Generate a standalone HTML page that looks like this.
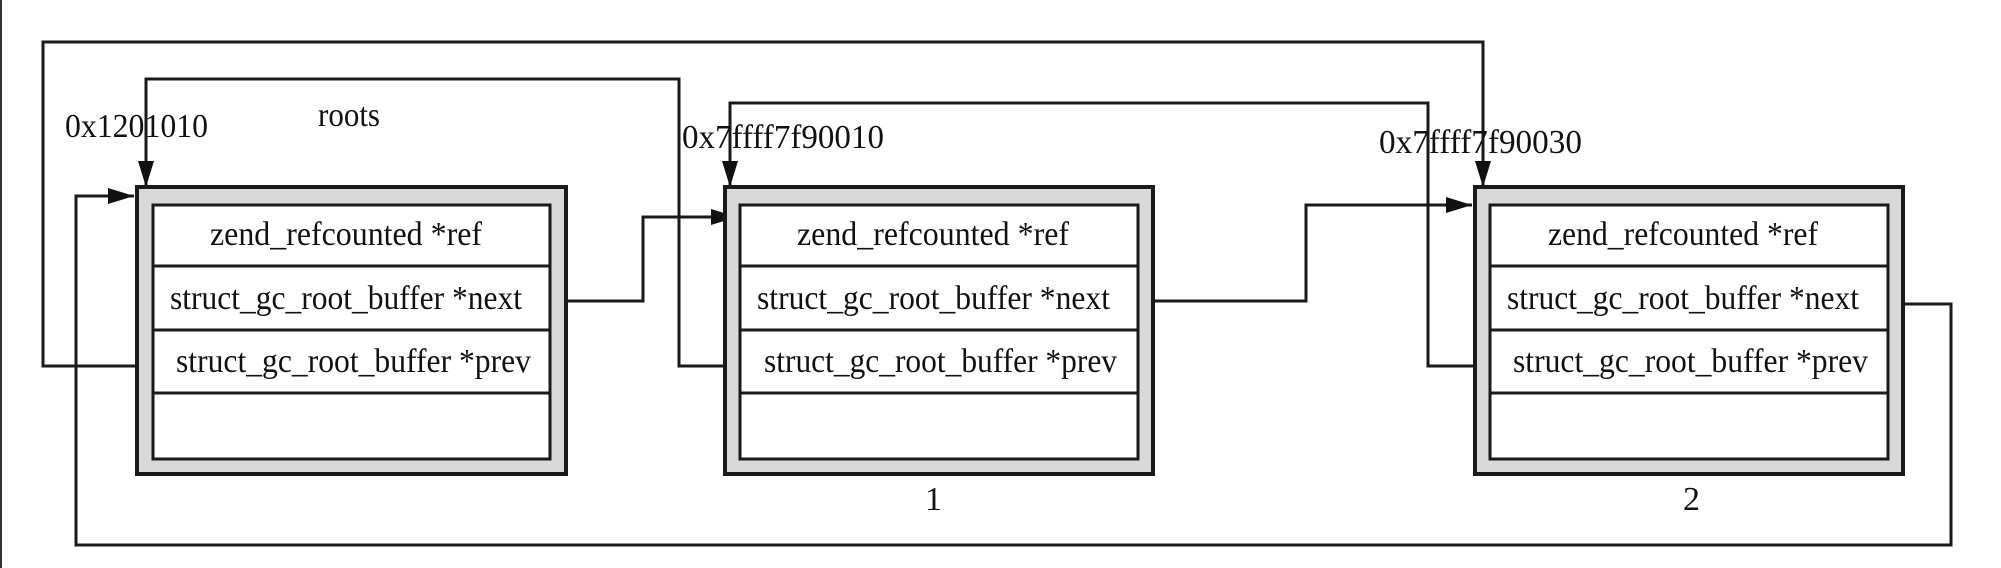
<!DOCTYPE html>
<html><head><meta charset="utf-8"><style>html,body{margin:0;padding:0;background:#fff}svg{display:block}</style></head>
<body>
<svg width="2001" height="568" viewBox="0 0 2001 568" xmlns="http://www.w3.org/2000/svg" font-family="Liberation Serif, serif" font-size="34" fill="#111">
<rect x="0" y="0" width="2" height="568" fill="#333"/>
<defs>
<marker id="b" viewBox="0 0 26 26" markerWidth="26" markerHeight="26" refX="26" refY="13" orient="auto" markerUnits="userSpaceOnUse"><path d="M0,5 L26,13 L0,21z" fill="#111"/></marker></defs>
<g fill="none" stroke="#1a1a1a" stroke-width="3">
<polyline points="153,366 43,366 43,42 1483,42 1483,187" marker-end="url(#b)"/>
<polyline points="740,366 679,366 679,79 146,79 146,187" marker-end="url(#b)"/>
<polyline points="1490,366 1428,366 1428,103 730,103 730,187" marker-end="url(#b)"/>
<polyline points="550,301 643,301 643,217 737,217" marker-end="url(#b)"/>
<polyline points="1138,301 1306,301 1306,205 1472,205" marker-end="url(#b)"/>
<polyline points="1888,304 1951,304 1951,545 76,545 76,196 134,196" marker-end="url(#b)"/>
</g>
<g stroke="#1a1a1a">
<rect x="137" y="187" width="429" height="287" fill="#d9d9d9" stroke-width="4"/>
<rect x="153" y="205" width="397" height="254" fill="#fff" stroke-width="3"/>
<line x1="153" y1="266" x2="550" y2="266" stroke-width="3"/><line x1="153" y1="330" x2="550" y2="330" stroke-width="3"/><line x1="153" y1="393" x2="550" y2="393" stroke-width="3"/>
<rect x="725" y="187" width="428" height="287" fill="#d9d9d9" stroke-width="4"/>
<rect x="740" y="205" width="398" height="254" fill="#fff" stroke-width="3"/>
<line x1="740" y1="266" x2="1138" y2="266" stroke-width="3"/><line x1="740" y1="330" x2="1138" y2="330" stroke-width="3"/><line x1="740" y1="393" x2="1138" y2="393" stroke-width="3"/>
<rect x="1475" y="187" width="428" height="287" fill="#d9d9d9" stroke-width="4"/>
<rect x="1490" y="205" width="398" height="254" fill="#fff" stroke-width="3"/>
<line x1="1490" y1="266" x2="1888" y2="266" stroke-width="3"/><line x1="1490" y1="330" x2="1888" y2="330" stroke-width="3"/><line x1="1490" y1="393" x2="1888" y2="393" stroke-width="3"/>
</g>
<text x="65" y="137" textLength="143" lengthAdjust="spacingAndGlyphs">0x1201010</text>
<text x="318" y="126" textLength="62" lengthAdjust="spacingAndGlyphs">roots</text>
<text x="682" y="148" textLength="202" lengthAdjust="spacingAndGlyphs">0x7ffff7f90010</text>
<text x="1379" y="153" textLength="203" lengthAdjust="spacingAndGlyphs">0x7ffff7f90030</text>
<text x="925" y="510">1</text>
<text x="1683" y="510">2</text>
<text x="210" y="245" textLength="272" lengthAdjust="spacingAndGlyphs">zend_refcounted *ref</text>
<text x="170" y="309" textLength="352" lengthAdjust="spacingAndGlyphs">struct_gc_root_buffer *next</text>
<text x="176" y="372" textLength="355" lengthAdjust="spacingAndGlyphs">struct_gc_root_buffer *prev</text>
<text x="797" y="245" textLength="272" lengthAdjust="spacingAndGlyphs">zend_refcounted *ref</text>
<text x="757" y="309" textLength="353" lengthAdjust="spacingAndGlyphs">struct_gc_root_buffer *next</text>
<text x="764" y="372" textLength="353" lengthAdjust="spacingAndGlyphs">struct_gc_root_buffer *prev</text>
<text x="1548" y="245" textLength="270" lengthAdjust="spacingAndGlyphs">zend_refcounted *ref</text>
<text x="1507" y="309" textLength="352" lengthAdjust="spacingAndGlyphs">struct_gc_root_buffer *next</text>
<text x="1513" y="372" textLength="355" lengthAdjust="spacingAndGlyphs">struct_gc_root_buffer *prev</text>
</svg>
</body></html>
